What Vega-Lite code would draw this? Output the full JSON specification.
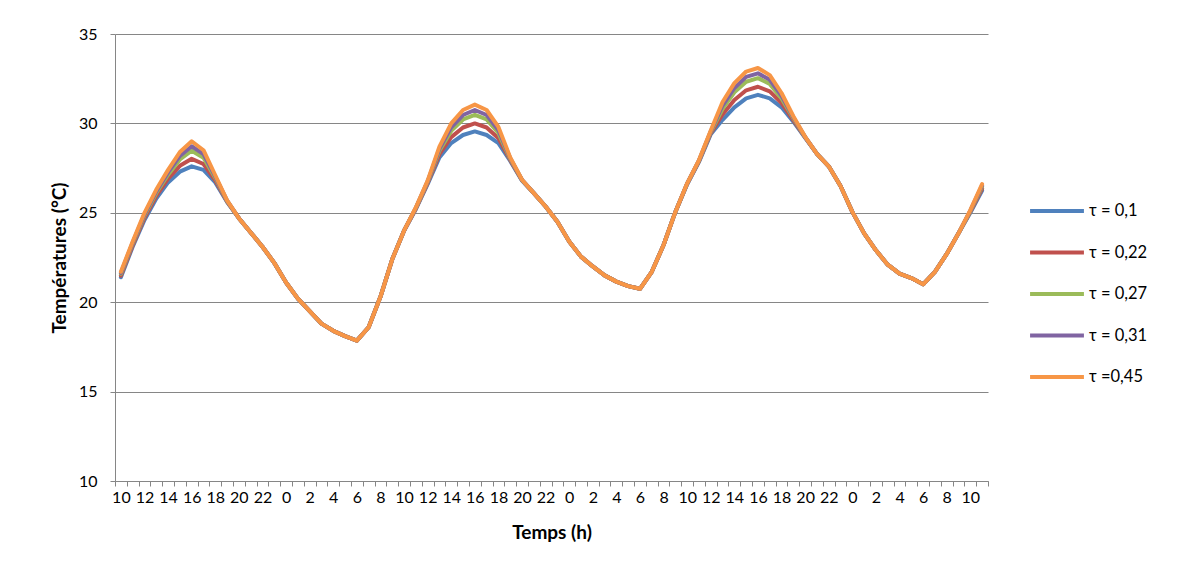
{
  "$schema": "https://vega.github.io/schema/vega-lite/v6.json",
  "autosize": "none",
  "width": 873,
  "height": 447,
  "padding": {"left": 115, "top": 34, "right": 189, "bottom": 99},
  "background": "white",
  "config": {
    "font": "Lato",
    "view": {"stroke": null},
    "axis": {
      "labelFont": "Lato",
      "titleFont": "Lato",
      "labelFontSize": 16,
      "titleFontSize": 19,
      "labelColor": "#000000",
      "titleColor": "#000000",
      "domainColor": "#868686",
      "tickColor": "#868686",
      "gridColor": "#868686",
      "gridOpacity": 1
    }
  },
  "data": {
    "values": [
      {"i": 0, "τ = 0,1": 21.4, "τ = 0,22": 21.49, "τ = 0,27": 21.59, "τ = 0,31": 21.64, "τ =0,45": 21.7},
      {"i": 1, "τ = 0,1": 23.1, "τ = 0,22": 23.19, "τ = 0,27": 23.29, "τ = 0,31": 23.34, "τ =0,45": 23.4},
      {"i": 2, "τ = 0,1": 24.6, "τ = 0,22": 24.72, "τ = 0,27": 24.85, "τ = 0,31": 24.92, "τ =0,45": 25.0},
      {"i": 3, "τ = 0,1": 25.8, "τ = 0,22": 25.95, "τ = 0,27": 26.11, "τ = 0,31": 26.2, "τ =0,45": 26.3},
      {"i": 4, "τ = 0,1": 26.7, "τ = 0,22": 26.91, "τ = 0,27": 27.13, "τ = 0,31": 27.26, "τ =0,45": 27.4},
      {"i": 5, "τ = 0,1": 27.3, "τ = 0,22": 27.63, "τ = 0,27": 27.98, "τ = 0,31": 28.18, "τ =0,45": 28.4},
      {"i": 6, "τ = 0,1": 27.6, "τ = 0,22": 28.02, "τ = 0,27": 28.47, "τ = 0,31": 28.72, "τ =0,45": 29.0},
      {"i": 7, "τ = 0,1": 27.4, "τ = 0,22": 27.73, "τ = 0,27": 28.08, "τ = 0,31": 28.28, "τ =0,45": 28.5},
      {"i": 8, "τ = 0,1": 26.7, "τ = 0,22": 26.82, "τ = 0,27": 26.95, "τ = 0,31": 27.02, "τ =0,45": 27.1},
      {"i": 9, "τ = 0,1": 25.6, "τ = 0,22": 25.63, "τ = 0,27": 25.66, "τ = 0,31": 25.68, "τ =0,45": 25.7},
      {"i": 10, "τ = 0,1": 24.7, "τ = 0,22": 24.7, "τ = 0,27": 24.7, "τ = 0,31": 24.7, "τ =0,45": 24.7},
      {"i": 11, "τ = 0,1": 23.9, "τ = 0,22": 23.9, "τ = 0,27": 23.9, "τ = 0,31": 23.9, "τ =0,45": 23.9},
      {"i": 12, "τ = 0,1": 23.1, "τ = 0,22": 23.1, "τ = 0,27": 23.1, "τ = 0,31": 23.1, "τ =0,45": 23.1},
      {"i": 13, "τ = 0,1": 22.2, "τ = 0,22": 22.2, "τ = 0,27": 22.2, "τ = 0,31": 22.2, "τ =0,45": 22.2},
      {"i": 14, "τ = 0,1": 21.1, "τ = 0,22": 21.1, "τ = 0,27": 21.1, "τ = 0,31": 21.1, "τ =0,45": 21.1},
      {"i": 15, "τ = 0,1": 20.2, "τ = 0,22": 20.2, "τ = 0,27": 20.2, "τ = 0,31": 20.2, "τ =0,45": 20.2},
      {"i": 16, "τ = 0,1": 19.5, "τ = 0,22": 19.5, "τ = 0,27": 19.5, "τ = 0,31": 19.5, "τ =0,45": 19.5},
      {"i": 17, "τ = 0,1": 18.8, "τ = 0,22": 18.8, "τ = 0,27": 18.8, "τ = 0,31": 18.8, "τ =0,45": 18.8},
      {"i": 18, "τ = 0,1": 18.4, "τ = 0,22": 18.4, "τ = 0,27": 18.4, "τ = 0,31": 18.4, "τ =0,45": 18.4},
      {"i": 19, "τ = 0,1": 18.1, "τ = 0,22": 18.1, "τ = 0,27": 18.1, "τ = 0,31": 18.1, "τ =0,45": 18.1},
      {"i": 20, "τ = 0,1": 17.85, "τ = 0,22": 17.85, "τ = 0,27": 17.85, "τ = 0,31": 17.85, "τ =0,45": 17.85},
      {"i": 21, "τ = 0,1": 18.6, "τ = 0,22": 18.6, "τ = 0,27": 18.6, "τ = 0,31": 18.6, "τ =0,45": 18.6},
      {"i": 22, "τ = 0,1": 20.3, "τ = 0,22": 20.3, "τ = 0,27": 20.3, "τ = 0,31": 20.3, "τ =0,45": 20.3},
      {"i": 23, "τ = 0,1": 22.4, "τ = 0,22": 22.4, "τ = 0,27": 22.4, "τ = 0,31": 22.4, "τ =0,45": 22.4},
      {"i": 24, "τ = 0,1": 24.0, "τ = 0,22": 24.0, "τ = 0,27": 24.0, "τ = 0,31": 24.0, "τ =0,45": 24.0},
      {"i": 25, "τ = 0,1": 25.2, "τ = 0,22": 25.23, "τ = 0,27": 25.26, "τ = 0,31": 25.28, "τ =0,45": 25.3},
      {"i": 26, "τ = 0,1": 26.6, "τ = 0,22": 26.66, "τ = 0,27": 26.72, "τ = 0,31": 26.76, "τ =0,45": 26.8},
      {"i": 27, "τ = 0,1": 28.1, "τ = 0,22": 28.28, "τ = 0,27": 28.47, "τ = 0,31": 28.58, "τ =0,45": 28.7},
      {"i": 28, "τ = 0,1": 28.9, "τ = 0,22": 29.23, "τ = 0,27": 29.58, "τ = 0,31": 29.78, "τ =0,45": 30.0},
      {"i": 29, "τ = 0,1": 29.35, "τ = 0,22": 29.77, "τ = 0,27": 30.22, "τ = 0,31": 30.47, "τ =0,45": 30.75},
      {"i": 30, "τ = 0,1": 29.55, "τ = 0,22": 30.0, "τ = 0,27": 30.48, "τ = 0,31": 30.75, "τ =0,45": 31.05},
      {"i": 31, "τ = 0,1": 29.35, "τ = 0,22": 29.77, "τ = 0,27": 30.22, "τ = 0,31": 30.47, "τ =0,45": 30.75},
      {"i": 32, "τ = 0,1": 28.9, "τ = 0,22": 29.17, "τ = 0,27": 29.46, "τ = 0,31": 29.62, "τ =0,45": 29.8},
      {"i": 33, "τ = 0,1": 27.9, "τ = 0,22": 27.96, "τ = 0,27": 28.02, "τ = 0,31": 28.06, "τ =0,45": 28.1},
      {"i": 34, "τ = 0,1": 26.8, "τ = 0,22": 26.82, "τ = 0,27": 26.83, "τ = 0,31": 26.84, "τ =0,45": 26.85},
      {"i": 35, "τ = 0,1": 26.1, "τ = 0,22": 26.1, "τ = 0,27": 26.1, "τ = 0,31": 26.1, "τ =0,45": 26.1},
      {"i": 36, "τ = 0,1": 25.35, "τ = 0,22": 25.35, "τ = 0,27": 25.35, "τ = 0,31": 25.35, "τ =0,45": 25.35},
      {"i": 37, "τ = 0,1": 24.5, "τ = 0,22": 24.5, "τ = 0,27": 24.5, "τ = 0,31": 24.5, "τ =0,45": 24.5},
      {"i": 38, "τ = 0,1": 23.4, "τ = 0,22": 23.4, "τ = 0,27": 23.4, "τ = 0,31": 23.4, "τ =0,45": 23.4},
      {"i": 39, "τ = 0,1": 22.55, "τ = 0,22": 22.55, "τ = 0,27": 22.55, "τ = 0,31": 22.55, "τ =0,45": 22.55},
      {"i": 40, "τ = 0,1": 22.0, "τ = 0,22": 22.0, "τ = 0,27": 22.0, "τ = 0,31": 22.0, "τ =0,45": 22.0},
      {"i": 41, "τ = 0,1": 21.5, "τ = 0,22": 21.5, "τ = 0,27": 21.5, "τ = 0,31": 21.5, "τ =0,45": 21.5},
      {"i": 42, "τ = 0,1": 21.15, "τ = 0,22": 21.15, "τ = 0,27": 21.15, "τ = 0,31": 21.15, "τ =0,45": 21.15},
      {"i": 43, "τ = 0,1": 20.9, "τ = 0,22": 20.9, "τ = 0,27": 20.9, "τ = 0,31": 20.9, "τ =0,45": 20.9},
      {"i": 44, "τ = 0,1": 20.75, "τ = 0,22": 20.75, "τ = 0,27": 20.75, "τ = 0,31": 20.75, "τ =0,45": 20.75},
      {"i": 45, "τ = 0,1": 21.7, "τ = 0,22": 21.7, "τ = 0,27": 21.7, "τ = 0,31": 21.7, "τ =0,45": 21.7},
      {"i": 46, "τ = 0,1": 23.2, "τ = 0,22": 23.2, "τ = 0,27": 23.2, "τ = 0,31": 23.2, "τ =0,45": 23.2},
      {"i": 47, "τ = 0,1": 25.05, "τ = 0,22": 25.05, "τ = 0,27": 25.05, "τ = 0,31": 25.05, "τ =0,45": 25.05},
      {"i": 48, "τ = 0,1": 26.6, "τ = 0,22": 26.62, "τ = 0,27": 26.63, "τ = 0,31": 26.64, "τ =0,45": 26.65},
      {"i": 49, "τ = 0,1": 27.85, "τ = 0,22": 27.88, "τ = 0,27": 27.91, "τ = 0,31": 27.93, "τ =0,45": 27.95},
      {"i": 50, "τ = 0,1": 29.4, "τ = 0,22": 29.46, "τ = 0,27": 29.52, "τ = 0,31": 29.56, "τ =0,45": 29.6},
      {"i": 51, "τ = 0,1": 30.2, "τ = 0,22": 30.5, "τ = 0,27": 30.82, "τ = 0,31": 31.0, "τ =0,45": 31.2},
      {"i": 52, "τ = 0,1": 30.9, "τ = 0,22": 31.31, "τ = 0,27": 31.74, "τ = 0,31": 31.98, "τ =0,45": 32.25},
      {"i": 53, "τ = 0,1": 31.4, "τ = 0,22": 31.85, "τ = 0,27": 32.33, "τ = 0,31": 32.6, "τ =0,45": 32.9},
      {"i": 54, "τ = 0,1": 31.6, "τ = 0,22": 32.05, "τ = 0,27": 32.53, "τ = 0,31": 32.8, "τ =0,45": 33.1},
      {"i": 55, "τ = 0,1": 31.4, "τ = 0,22": 31.79, "τ = 0,27": 32.21, "τ = 0,31": 32.44, "τ =0,45": 32.7},
      {"i": 56, "τ = 0,1": 30.9, "τ = 0,22": 31.14, "τ = 0,27": 31.4, "τ = 0,31": 31.54, "τ =0,45": 31.7},
      {"i": 57, "τ = 0,1": 30.1, "τ = 0,22": 30.19, "τ = 0,27": 30.29, "τ = 0,31": 30.34, "τ =0,45": 30.4},
      {"i": 58, "τ = 0,1": 29.2, "τ = 0,22": 29.22, "τ = 0,27": 29.23, "τ = 0,31": 29.24, "τ =0,45": 29.25},
      {"i": 59, "τ = 0,1": 28.3, "τ = 0,22": 28.3, "τ = 0,27": 28.3, "τ = 0,31": 28.3, "τ =0,45": 28.3},
      {"i": 60, "τ = 0,1": 27.6, "τ = 0,22": 27.6, "τ = 0,27": 27.6, "τ = 0,31": 27.6, "τ =0,45": 27.6},
      {"i": 61, "τ = 0,1": 26.5, "τ = 0,22": 26.5, "τ = 0,27": 26.5, "τ = 0,31": 26.5, "τ =0,45": 26.5},
      {"i": 62, "τ = 0,1": 25.05, "τ = 0,22": 25.05, "τ = 0,27": 25.05, "τ = 0,31": 25.05, "τ =0,45": 25.05},
      {"i": 63, "τ = 0,1": 23.85, "τ = 0,22": 23.85, "τ = 0,27": 23.85, "τ = 0,31": 23.85, "τ =0,45": 23.85},
      {"i": 64, "τ = 0,1": 22.9, "τ = 0,22": 22.9, "τ = 0,27": 22.9, "τ = 0,31": 22.9, "τ =0,45": 22.9},
      {"i": 65, "τ = 0,1": 22.1, "τ = 0,22": 22.1, "τ = 0,27": 22.1, "τ = 0,31": 22.1, "τ =0,45": 22.1},
      {"i": 66, "τ = 0,1": 21.6, "τ = 0,22": 21.6, "τ = 0,27": 21.6, "τ = 0,31": 21.6, "τ =0,45": 21.6},
      {"i": 67, "τ = 0,1": 21.35, "τ = 0,22": 21.35, "τ = 0,27": 21.35, "τ = 0,31": 21.35, "τ =0,45": 21.35},
      {"i": 68, "τ = 0,1": 21.0, "τ = 0,22": 21.0, "τ = 0,27": 21.0, "τ = 0,31": 21.0, "τ =0,45": 21.0},
      {"i": 69, "τ = 0,1": 21.7, "τ = 0,22": 21.7, "τ = 0,27": 21.7, "τ = 0,31": 21.7, "τ =0,45": 21.7},
      {"i": 70, "τ = 0,1": 22.7, "τ = 0,22": 22.7, "τ = 0,27": 22.7, "τ = 0,31": 22.7, "τ =0,45": 22.7},
      {"i": 71, "τ = 0,1": 23.85, "τ = 0,22": 23.85, "τ = 0,27": 23.85, "τ = 0,31": 23.85, "τ =0,45": 23.85},
      {"i": 72, "τ = 0,1": 25.0, "τ = 0,22": 25.05, "τ = 0,27": 25.09, "τ = 0,31": 25.12, "τ =0,45": 25.15},
      {"i": 73, "τ = 0,1": 26.25, "τ = 0,22": 26.36, "τ = 0,27": 26.47, "τ = 0,31": 26.53, "τ =0,45": 26.6}
    ]
  },
  "transform": [
    {"fold": ["τ = 0,1", "τ = 0,22", "τ = 0,27", "τ = 0,31", "τ =0,45"], "as": ["serie", "temp"]}
  ],
  "mark": {"type": "line", "strokeWidth": 4, "strokeJoin": "round", "strokeCap": "round"},
  "encoding": {
    "x": {
      "field": "i",
      "type": "ordinal",
      "bandPosition": 0.5,
      "scale": {"type": "band", "paddingInner": 0, "paddingOuter": 0},
      "axis": {
        "title": "Temps (h)",
        "titleFontWeight": "bold",
        "titlePadding": 18,
        "labelAngle": 0,
        "labelPadding": 3,
        "tickBand": "extent",
        "tickSize": 5,
        "grid": false,
        "labelExpr": "datum.value % 2 == 0 ? '' + ((10 + datum.value) % 24) : ''"
      }
    },
    "y": {
      "field": "temp",
      "type": "quantitative",
      "scale": {"domain": [10, 35], "nice": false, "zero": false},
      "axis": {
        "title": "Températures (°C)",
        "titleFontWeight": "bold",
        "titlePadding": 9,
        "values": [10, 15, 20, 25, 30, 35],
        "tickSize": 5,
        "labelPadding": 13,
        "grid": true
      }
    },
    "color": {
      "field": "serie",
      "type": "nominal",
      "scale": {
        "domain": ["τ = 0,1", "τ = 0,22", "τ = 0,27", "τ = 0,31", "τ =0,45"],
        "range": ["#4F81BD", "#C0504D", "#9BBB59", "#8064A2", "#F79646"]
      },
      "legend": {
        "title": null,
        "orient": "none",
        "legendX": 913,
        "legendY": 168,
        "symbolType": "stroke",
        "symbolSize": 2900,
        "symbolStrokeWidth": 4,
        "clipHeight": 18,
        "rowPadding": 23.5,
        "labelOffset": 3,
        "labelFont": "Lato",
        "labelFontSize": 16.5,
        "labelColor": "#000000"
      }
    },
    "order": {"field": "serie", "sort": "ascending"}
  }
}
